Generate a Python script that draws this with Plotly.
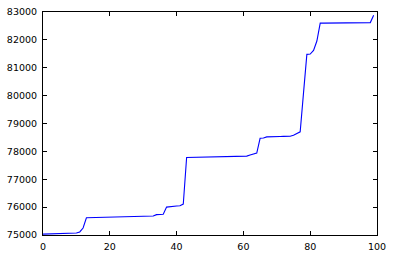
import plotly.graph_objects as go

x_vals = list(range(100))
y_vals = [
    75030, 75035, 75040, 75045, 75048, 75050, 75055, 75060, 75062, 75065,
    75070, 75110, 75250, 75620, 75622, 75625, 75628, 75630, 75632, 75635,
    75638, 75640, 75642, 75645, 75648, 75650, 75652, 75655, 75658, 75660,
    75665, 75670, 75675, 75680, 75730, 75740, 75745, 76000, 76020, 76030,
    76040, 76050, 76110, 77780, 77782, 77784, 77785, 77786, 77787, 77788,
    77789, 77790, 77791, 77792, 77793, 77794, 77795, 77796, 77798, 77800,
    77810, 77830, 77870, 77900, 77940, 78470, 78480, 78520, 78530, 78532,
    78534, 78536, 78538, 78540, 78545, 78580, 78640, 78700, 80100, 81480,
    81490, 81620, 81960, 82600, 82602, 82603, 82604, 82605, 82606, 82607,
    82608, 82609, 82610, 82611, 82612, 82613, 82614, 82615, 82620, 82880,
]

x_ticks = [0, 20, 40, 60, 80, 100]
y_ticks = [75000, 76000, 77000, 78000, 79000, 80000, 81000, 82000, 83000]

fig = go.Figure(go.Scatter(x=x_vals, y=y_vals, mode="lines",
                           line=dict(color="#0000ff", width=1.1)))

axis_common = dict(showline=True, linecolor="black", linewidth=1, mirror="ticks",
                   ticks="inside", ticklen=4, tickcolor="black", tickwidth=1,
                   showgrid=False, zeroline=False, automargin=False)

fig.update_layout(
    width=394, height=256,
    margin=dict(l=43, r=17, t=12, b=21),
    paper_bgcolor="white", plot_bgcolor="white",
    font=dict(family="DejaVu Sans", size=9.5, color="black"),
    showlegend=False,
    xaxis=dict(range=[0, 100], tickvals=x_ticks, ticklabelstandoff=3, **axis_common),
    yaxis=dict(range=[75000, 83000], tickvals=y_ticks, ticklabelstandoff=3,
               ticktext=[str(v) for v in y_ticks], **axis_common),
)

fig.write_html("out.html")
